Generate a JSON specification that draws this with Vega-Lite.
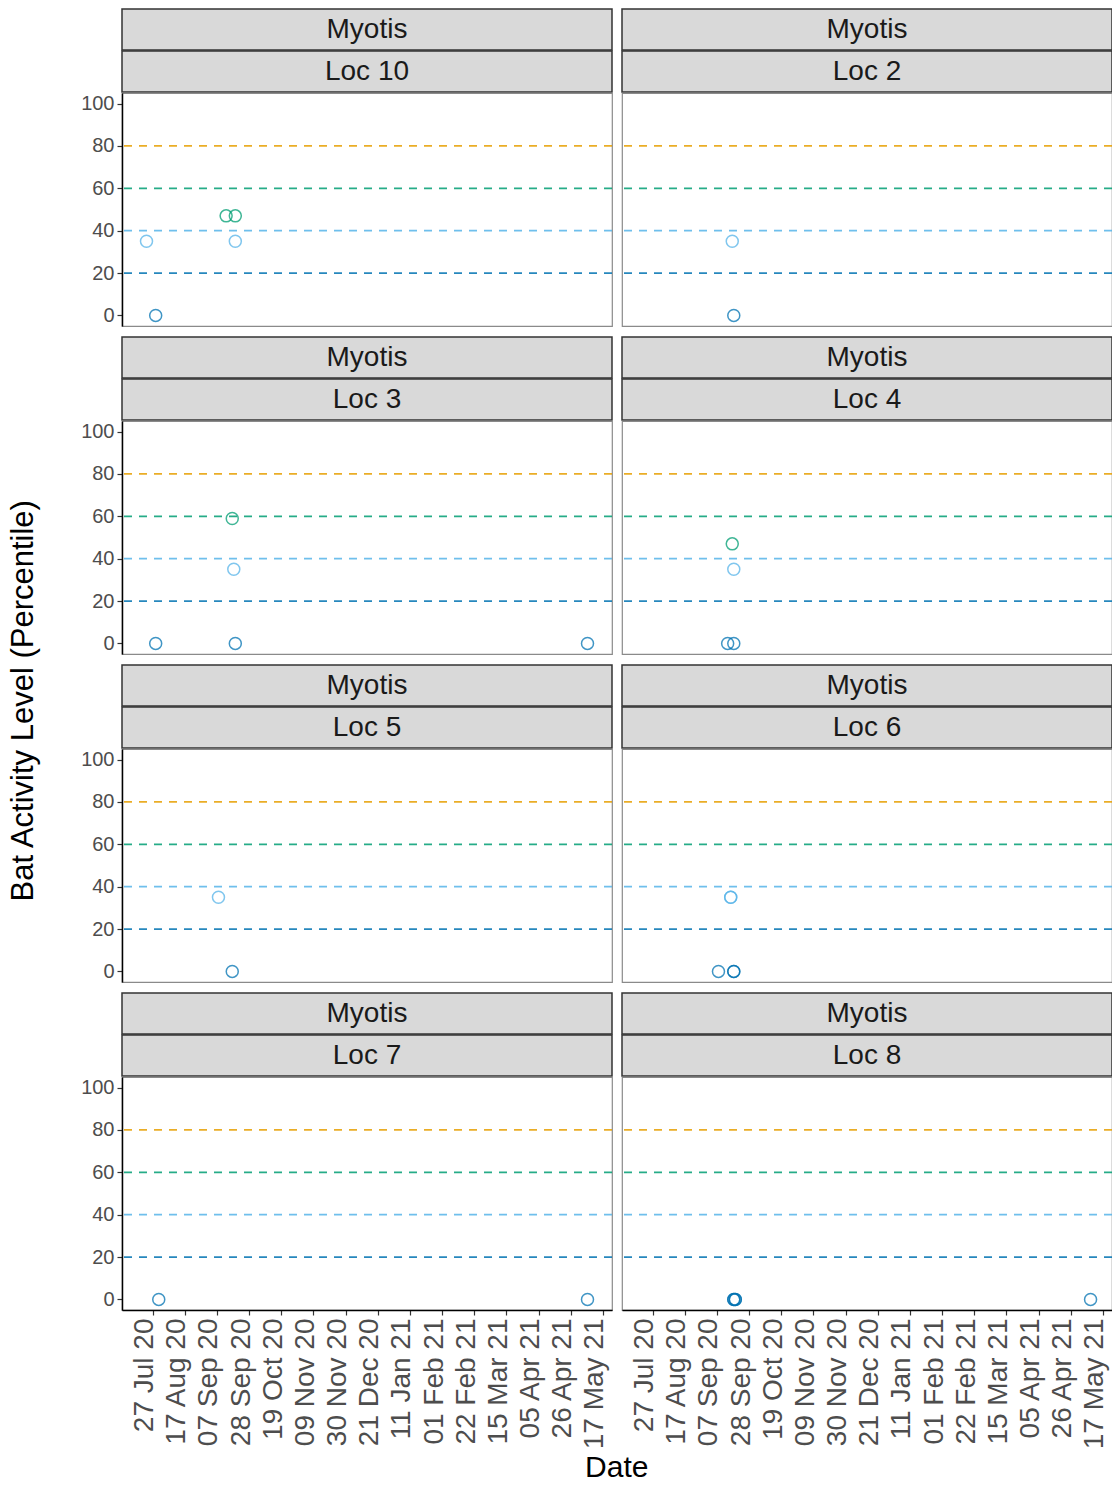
{
  "$schema": "https://vega.github.io/schema/vega-lite/v6.json",
  "padding": {"left": 8, "top": 8, "right": 0, "bottom": 0},
  "background": "white",
  "title": {"text": "Bat Activity Level (Percentile)", "orient": "left", "anchor": "middle", "fontSize": 31, "fontWeight": "normal", "color": "#000000", "offset": 40, "dx": 45},
  "datasets": {
    "strips": [
      {"species": "Myotis", "loc": "Loc 10"}, {"species": "Myotis", "loc": "Loc 2"},
      {"species": "Myotis", "loc": "Loc 3"}, {"species": "Myotis", "loc": "Loc 4"},
      {"species": "Myotis", "loc": "Loc 5"}, {"species": "Myotis", "loc": "Loc 6"},
      {"species": "Myotis", "loc": "Loc 7"}, {"species": "Myotis", "loc": "Loc 8"}
    ],
    "thr": [
      {"level": 20, "thr": "20"}, {"level": 40, "thr": "40"}, {"level": 60, "thr": "60"}, {"level": 80, "thr": "80"}
    ],
    "pts": [
      {"loc": "Loc 10", "date": "2020-07-23", "level": 35},
      {"loc": "Loc 10", "date": "2020-07-29", "level": 0},
      {"loc": "Loc 10", "date": "2020-09-13", "level": 47},
      {"loc": "Loc 10", "date": "2020-09-19", "level": 47},
      {"loc": "Loc 10", "date": "2020-09-19", "level": 35},
      {"loc": "Loc 2", "date": "2020-09-17", "level": 35},
      {"loc": "Loc 2", "date": "2020-09-18", "level": 0},
      {"loc": "Loc 3", "date": "2020-07-29", "level": 0},
      {"loc": "Loc 3", "date": "2020-09-17", "level": 59},
      {"loc": "Loc 3", "date": "2020-09-18", "level": 35},
      {"loc": "Loc 3", "date": "2020-09-19", "level": 0},
      {"loc": "Loc 3", "date": "2021-05-07", "level": 0},
      {"loc": "Loc 4", "date": "2020-09-17", "level": 47},
      {"loc": "Loc 4", "date": "2020-09-18", "level": 35},
      {"loc": "Loc 4", "date": "2020-09-14", "level": 0},
      {"loc": "Loc 4", "date": "2020-09-18", "level": 0},
      {"loc": "Loc 5", "date": "2020-09-08", "level": 35},
      {"loc": "Loc 5", "date": "2020-09-17", "level": 0},
      {"loc": "Loc 6", "date": "2020-09-16", "level": 35},
      {"loc": "Loc 6", "date": "2020-09-16", "level": 35},
      {"loc": "Loc 6", "date": "2020-09-08", "level": 0},
      {"loc": "Loc 6", "date": "2020-09-18", "level": 0},
      {"loc": "Loc 6", "date": "2020-09-18", "level": 0},
      {"loc": "Loc 7", "date": "2020-07-31", "level": 0},
      {"loc": "Loc 7", "date": "2021-05-07", "level": 0},
      {"loc": "Loc 8", "date": "2020-09-18", "level": 0},
      {"loc": "Loc 8", "date": "2020-09-18", "level": 0},
      {"loc": "Loc 8", "date": "2020-09-19", "level": 0},
      {"loc": "Loc 8", "date": "2020-09-19", "level": 0},
      {"loc": "Loc 8", "date": "2021-05-09", "level": 0}
    ]
  },
  "spacing": 9,
  "vconcat": [
    {"spacing": 6, "hconcat": [
      {"spacing": -2, "vconcat": [
        {"width": 490, "height": 41, "view": {"fill": "#d9d9d9", "stroke": "#333333", "strokeWidth": 1.5}, "data": {"name": "strips"}, "transform": [{"filter": "datum.loc === 'Loc 10'"}], "mark": {"type": "text", "fontSize": 28, "color": "#1a1a1a"}, "encoding": {"text": {"field": "species"}}},
        {"width": 490, "height": 41, "view": {"fill": "#d9d9d9", "stroke": "#333333", "strokeWidth": 1.5}, "data": {"name": "strips"}, "transform": [{"filter": "datum.loc === 'Loc 10'"}], "mark": {"type": "text", "fontSize": 28, "color": "#1a1a1a"}, "encoding": {"text": {"field": "loc"}}},
        {"width": 490, "height": 233, "view": {"stroke": "#8a8a8a", "strokeWidth": 1.2},
         "encoding": {"y": {"field": "level", "type": "quantitative", "scale": {"domain": [-5, 105], "nice": false, "zero": false}, "axis": {"values": [0, 20, 40, 60, 80, 100], "title": null}}},
         "layer": [
          {"data": {"name": "thr"}, "mark": {"type": "rule", "strokeDash": [8, 7], "strokeWidth": 1.8, "opacity": 0.85}, "encoding": {"stroke": {"field": "thr", "type": "nominal", "scale": {"domain": ["20", "40", "60", "80"], "range": ["#0072B2", "#56B4E9", "#009E73", "#E69F00"]}, "legend": null}}},
          {"data": {"name": "pts"}, "transform": [{"filter": "datum.loc === 'Loc 10'"}], "mark": {"type": "point", "shape": "circle", "filled": false, "size": 144, "strokeWidth": 1.5, "opacity": 0.75},
           "encoding": {"x": {"field": "date", "type": "temporal", "scale": {"type": "utc", "domain": [1594080000000, 1621728000000]}, "axis": null},
                        "color": {"field": "level", "type": "quantitative", "scale": {"type": "threshold", "domain": [20, 40, 60, 80], "range": ["#0072B2", "#56B4E9", "#009E73", "#E69F00", "#D55E00"]}, "legend": null}}}
         ]}
      ]},
      {"spacing": -2, "vconcat": [
        {"width": 490, "height": 41, "view": {"fill": "#d9d9d9", "stroke": "#333333", "strokeWidth": 1.5}, "data": {"name": "strips"}, "transform": [{"filter": "datum.loc === 'Loc 2'"}], "mark": {"type": "text", "fontSize": 28, "color": "#1a1a1a"}, "encoding": {"text": {"field": "species"}}},
        {"width": 490, "height": 41, "view": {"fill": "#d9d9d9", "stroke": "#333333", "strokeWidth": 1.5}, "data": {"name": "strips"}, "transform": [{"filter": "datum.loc === 'Loc 2'"}], "mark": {"type": "text", "fontSize": 28, "color": "#1a1a1a"}, "encoding": {"text": {"field": "loc"}}},
        {"width": 490, "height": 233, "view": {"stroke": "#8a8a8a", "strokeWidth": 1.2},
         "encoding": {"y": {"field": "level", "type": "quantitative", "scale": {"domain": [-5, 105], "nice": false, "zero": false}, "axis": null}},
         "layer": [
          {"data": {"name": "thr"}, "mark": {"type": "rule", "strokeDash": [8, 7], "strokeWidth": 1.8, "opacity": 0.85}, "encoding": {"stroke": {"field": "thr", "type": "nominal", "scale": {"domain": ["20", "40", "60", "80"], "range": ["#0072B2", "#56B4E9", "#009E73", "#E69F00"]}, "legend": null}}},
          {"data": {"name": "pts"}, "transform": [{"filter": "datum.loc === 'Loc 2'"}], "mark": {"type": "point", "shape": "circle", "filled": false, "size": 144, "strokeWidth": 1.5, "opacity": 0.75},
           "encoding": {"x": {"field": "date", "type": "temporal", "scale": {"type": "utc", "domain": [1594080000000, 1621728000000]}, "axis": null},
                        "color": {"field": "level", "type": "quantitative", "scale": {"type": "threshold", "domain": [20, 40, 60, 80], "range": ["#0072B2", "#56B4E9", "#009E73", "#E69F00", "#D55E00"]}, "legend": null}}}
         ]}
      ]}
    ]},
    {"spacing": 6, "hconcat": [
      {"spacing": -2, "vconcat": [
        {"width": 490, "height": 41, "view": {"fill": "#d9d9d9", "stroke": "#333333", "strokeWidth": 1.5}, "data": {"name": "strips"}, "transform": [{"filter": "datum.loc === 'Loc 3'"}], "mark": {"type": "text", "fontSize": 28, "color": "#1a1a1a"}, "encoding": {"text": {"field": "species"}}},
        {"width": 490, "height": 41, "view": {"fill": "#d9d9d9", "stroke": "#333333", "strokeWidth": 1.5}, "data": {"name": "strips"}, "transform": [{"filter": "datum.loc === 'Loc 3'"}], "mark": {"type": "text", "fontSize": 28, "color": "#1a1a1a"}, "encoding": {"text": {"field": "loc"}}},
        {"width": 490, "height": 233, "view": {"stroke": "#8a8a8a", "strokeWidth": 1.2},
         "encoding": {"y": {"field": "level", "type": "quantitative", "scale": {"domain": [-5, 105], "nice": false, "zero": false}, "axis": {"values": [0, 20, 40, 60, 80, 100], "title": null}}},
         "layer": [
          {"data": {"name": "thr"}, "mark": {"type": "rule", "strokeDash": [8, 7], "strokeWidth": 1.8, "opacity": 0.85}, "encoding": {"stroke": {"field": "thr", "type": "nominal", "scale": {"domain": ["20", "40", "60", "80"], "range": ["#0072B2", "#56B4E9", "#009E73", "#E69F00"]}, "legend": null}}},
          {"data": {"name": "pts"}, "transform": [{"filter": "datum.loc === 'Loc 3'"}], "mark": {"type": "point", "shape": "circle", "filled": false, "size": 144, "strokeWidth": 1.5, "opacity": 0.75},
           "encoding": {"x": {"field": "date", "type": "temporal", "scale": {"type": "utc", "domain": [1594080000000, 1621728000000]}, "axis": null},
                        "color": {"field": "level", "type": "quantitative", "scale": {"type": "threshold", "domain": [20, 40, 60, 80], "range": ["#0072B2", "#56B4E9", "#009E73", "#E69F00", "#D55E00"]}, "legend": null}}}
         ]}
      ]},
      {"spacing": -2, "vconcat": [
        {"width": 490, "height": 41, "view": {"fill": "#d9d9d9", "stroke": "#333333", "strokeWidth": 1.5}, "data": {"name": "strips"}, "transform": [{"filter": "datum.loc === 'Loc 4'"}], "mark": {"type": "text", "fontSize": 28, "color": "#1a1a1a"}, "encoding": {"text": {"field": "species"}}},
        {"width": 490, "height": 41, "view": {"fill": "#d9d9d9", "stroke": "#333333", "strokeWidth": 1.5}, "data": {"name": "strips"}, "transform": [{"filter": "datum.loc === 'Loc 4'"}], "mark": {"type": "text", "fontSize": 28, "color": "#1a1a1a"}, "encoding": {"text": {"field": "loc"}}},
        {"width": 490, "height": 233, "view": {"stroke": "#8a8a8a", "strokeWidth": 1.2},
         "encoding": {"y": {"field": "level", "type": "quantitative", "scale": {"domain": [-5, 105], "nice": false, "zero": false}, "axis": null}},
         "layer": [
          {"data": {"name": "thr"}, "mark": {"type": "rule", "strokeDash": [8, 7], "strokeWidth": 1.8, "opacity": 0.85}, "encoding": {"stroke": {"field": "thr", "type": "nominal", "scale": {"domain": ["20", "40", "60", "80"], "range": ["#0072B2", "#56B4E9", "#009E73", "#E69F00"]}, "legend": null}}},
          {"data": {"name": "pts"}, "transform": [{"filter": "datum.loc === 'Loc 4'"}], "mark": {"type": "point", "shape": "circle", "filled": false, "size": 144, "strokeWidth": 1.5, "opacity": 0.75},
           "encoding": {"x": {"field": "date", "type": "temporal", "scale": {"type": "utc", "domain": [1594080000000, 1621728000000]}, "axis": null},
                        "color": {"field": "level", "type": "quantitative", "scale": {"type": "threshold", "domain": [20, 40, 60, 80], "range": ["#0072B2", "#56B4E9", "#009E73", "#E69F00", "#D55E00"]}, "legend": null}}}
         ]}
      ]}
    ]},
    {"spacing": 6, "hconcat": [
      {"spacing": -2, "vconcat": [
        {"width": 490, "height": 41, "view": {"fill": "#d9d9d9", "stroke": "#333333", "strokeWidth": 1.5}, "data": {"name": "strips"}, "transform": [{"filter": "datum.loc === 'Loc 5'"}], "mark": {"type": "text", "fontSize": 28, "color": "#1a1a1a"}, "encoding": {"text": {"field": "species"}}},
        {"width": 490, "height": 41, "view": {"fill": "#d9d9d9", "stroke": "#333333", "strokeWidth": 1.5}, "data": {"name": "strips"}, "transform": [{"filter": "datum.loc === 'Loc 5'"}], "mark": {"type": "text", "fontSize": 28, "color": "#1a1a1a"}, "encoding": {"text": {"field": "loc"}}},
        {"width": 490, "height": 233, "view": {"stroke": "#8a8a8a", "strokeWidth": 1.2},
         "encoding": {"y": {"field": "level", "type": "quantitative", "scale": {"domain": [-5, 105], "nice": false, "zero": false}, "axis": {"values": [0, 20, 40, 60, 80, 100], "title": null}}},
         "layer": [
          {"data": {"name": "thr"}, "mark": {"type": "rule", "strokeDash": [8, 7], "strokeWidth": 1.8, "opacity": 0.85}, "encoding": {"stroke": {"field": "thr", "type": "nominal", "scale": {"domain": ["20", "40", "60", "80"], "range": ["#0072B2", "#56B4E9", "#009E73", "#E69F00"]}, "legend": null}}},
          {"data": {"name": "pts"}, "transform": [{"filter": "datum.loc === 'Loc 5'"}], "mark": {"type": "point", "shape": "circle", "filled": false, "size": 144, "strokeWidth": 1.5, "opacity": 0.75},
           "encoding": {"x": {"field": "date", "type": "temporal", "scale": {"type": "utc", "domain": [1594080000000, 1621728000000]}, "axis": null},
                        "color": {"field": "level", "type": "quantitative", "scale": {"type": "threshold", "domain": [20, 40, 60, 80], "range": ["#0072B2", "#56B4E9", "#009E73", "#E69F00", "#D55E00"]}, "legend": null}}}
         ]}
      ]},
      {"spacing": -2, "vconcat": [
        {"width": 490, "height": 41, "view": {"fill": "#d9d9d9", "stroke": "#333333", "strokeWidth": 1.5}, "data": {"name": "strips"}, "transform": [{"filter": "datum.loc === 'Loc 6'"}], "mark": {"type": "text", "fontSize": 28, "color": "#1a1a1a"}, "encoding": {"text": {"field": "species"}}},
        {"width": 490, "height": 41, "view": {"fill": "#d9d9d9", "stroke": "#333333", "strokeWidth": 1.5}, "data": {"name": "strips"}, "transform": [{"filter": "datum.loc === 'Loc 6'"}], "mark": {"type": "text", "fontSize": 28, "color": "#1a1a1a"}, "encoding": {"text": {"field": "loc"}}},
        {"width": 490, "height": 233, "view": {"stroke": "#8a8a8a", "strokeWidth": 1.2},
         "encoding": {"y": {"field": "level", "type": "quantitative", "scale": {"domain": [-5, 105], "nice": false, "zero": false}, "axis": null}},
         "layer": [
          {"data": {"name": "thr"}, "mark": {"type": "rule", "strokeDash": [8, 7], "strokeWidth": 1.8, "opacity": 0.85}, "encoding": {"stroke": {"field": "thr", "type": "nominal", "scale": {"domain": ["20", "40", "60", "80"], "range": ["#0072B2", "#56B4E9", "#009E73", "#E69F00"]}, "legend": null}}},
          {"data": {"name": "pts"}, "transform": [{"filter": "datum.loc === 'Loc 6'"}], "mark": {"type": "point", "shape": "circle", "filled": false, "size": 144, "strokeWidth": 1.5, "opacity": 0.75},
           "encoding": {"x": {"field": "date", "type": "temporal", "scale": {"type": "utc", "domain": [1594080000000, 1621728000000]}, "axis": null},
                        "color": {"field": "level", "type": "quantitative", "scale": {"type": "threshold", "domain": [20, 40, 60, 80], "range": ["#0072B2", "#56B4E9", "#009E73", "#E69F00", "#D55E00"]}, "legend": null}}}
         ]}
      ]}
    ]},
    {"spacing": 6,
     "title": {"text": "Date", "orient": "bottom", "anchor": "middle", "fontSize": 30, "fontWeight": "normal", "color": "#000000", "offset": 4, "dx": 20},
     "hconcat": [
      {"spacing": -2, "vconcat": [
        {"width": 490, "height": 41, "view": {"fill": "#d9d9d9", "stroke": "#333333", "strokeWidth": 1.5}, "data": {"name": "strips"}, "transform": [{"filter": "datum.loc === 'Loc 7'"}], "mark": {"type": "text", "fontSize": 28, "color": "#1a1a1a"}, "encoding": {"text": {"field": "species"}}},
        {"width": 490, "height": 41, "view": {"fill": "#d9d9d9", "stroke": "#333333", "strokeWidth": 1.5}, "data": {"name": "strips"}, "transform": [{"filter": "datum.loc === 'Loc 7'"}], "mark": {"type": "text", "fontSize": 28, "color": "#1a1a1a"}, "encoding": {"text": {"field": "loc"}}},
        {"width": 490, "height": 233, "view": {"stroke": "#8a8a8a", "strokeWidth": 1.2},
         "encoding": {"y": {"field": "level", "type": "quantitative", "scale": {"domain": [-5, 105], "nice": false, "zero": false}, "axis": {"values": [0, 20, 40, 60, 80, 100], "title": null}}},
         "layer": [
          {"data": {"name": "thr"}, "mark": {"type": "rule", "strokeDash": [8, 7], "strokeWidth": 1.8, "opacity": 0.85}, "encoding": {"stroke": {"field": "thr", "type": "nominal", "scale": {"domain": ["20", "40", "60", "80"], "range": ["#0072B2", "#56B4E9", "#009E73", "#E69F00"]}, "legend": null}}},
          {"data": {"name": "pts"}, "transform": [{"filter": "datum.loc === 'Loc 7'"}], "mark": {"type": "point", "shape": "circle", "filled": false, "size": 144, "strokeWidth": 1.5, "opacity": 0.75},
           "encoding": {"x": {"field": "date", "type": "temporal", "scale": {"type": "utc", "domain": [1594080000000, 1621728000000]},
                              "axis": {"values": [1595808000000, 1597622400000, 1599436800000, 1601251200000, 1603065600000, 1604880000000, 1606694400000, 1608508800000, 1610323200000, 1612137600000, 1613952000000, 1615766400000, 1617580800000, 1619395200000, 1621209600000], "format": "%d %b %y", "title": null}},
                        "color": {"field": "level", "type": "quantitative", "scale": {"type": "threshold", "domain": [20, 40, 60, 80], "range": ["#0072B2", "#56B4E9", "#009E73", "#E69F00", "#D55E00"]}, "legend": null}}}
         ]}
      ]},
      {"spacing": -2, "vconcat": [
        {"width": 490, "height": 41, "view": {"fill": "#d9d9d9", "stroke": "#333333", "strokeWidth": 1.5}, "data": {"name": "strips"}, "transform": [{"filter": "datum.loc === 'Loc 8'"}], "mark": {"type": "text", "fontSize": 28, "color": "#1a1a1a"}, "encoding": {"text": {"field": "species"}}},
        {"width": 490, "height": 41, "view": {"fill": "#d9d9d9", "stroke": "#333333", "strokeWidth": 1.5}, "data": {"name": "strips"}, "transform": [{"filter": "datum.loc === 'Loc 8'"}], "mark": {"type": "text", "fontSize": 28, "color": "#1a1a1a"}, "encoding": {"text": {"field": "loc"}}},
        {"width": 490, "height": 233, "view": {"stroke": "#8a8a8a", "strokeWidth": 1.2},
         "encoding": {"y": {"field": "level", "type": "quantitative", "scale": {"domain": [-5, 105], "nice": false, "zero": false}, "axis": null}},
         "layer": [
          {"data": {"name": "thr"}, "mark": {"type": "rule", "strokeDash": [8, 7], "strokeWidth": 1.8, "opacity": 0.85}, "encoding": {"stroke": {"field": "thr", "type": "nominal", "scale": {"domain": ["20", "40", "60", "80"], "range": ["#0072B2", "#56B4E9", "#009E73", "#E69F00"]}, "legend": null}}},
          {"data": {"name": "pts"}, "transform": [{"filter": "datum.loc === 'Loc 8'"}], "mark": {"type": "point", "shape": "circle", "filled": false, "size": 144, "strokeWidth": 1.5, "opacity": 0.75},
           "encoding": {"x": {"field": "date", "type": "temporal", "scale": {"type": "utc", "domain": [1594080000000, 1621728000000]},
                              "axis": {"values": [1595808000000, 1597622400000, 1599436800000, 1601251200000, 1603065600000, 1604880000000, 1606694400000, 1608508800000, 1610323200000, 1612137600000, 1613952000000, 1615766400000, 1617580800000, 1619395200000, 1621209600000], "format": "%d %b %y", "title": null}},
                        "color": {"field": "level", "type": "quantitative", "scale": {"type": "threshold", "domain": [20, 40, 60, 80], "range": ["#0072B2", "#56B4E9", "#009E73", "#E69F00", "#D55E00"]}, "legend": null}}}
         ]}
      ]}
    ]}
  ],
  "config": {
    "font": "Liberation Sans",
    "axis": {"grid": false, "labelColor": "#4d4d4d", "tickColor": "#333333", "tickSize": 5, "tickWidth": 1.2, "domainColor": "#000000", "domainWidth": 1.5, "labelFlush": false, "labelPadding": 3, "titleFontSize": 30, "titleFontWeight": "normal", "titleColor": "#000000"},
    "axisY": {"labelFontSize": 20},
    "axisX": {"labelFontSize": 28, "labelAngle": 270, "labelAlign": "right", "labelBaseline": "alphabetic", "labelOverlap": false}
  }
}
